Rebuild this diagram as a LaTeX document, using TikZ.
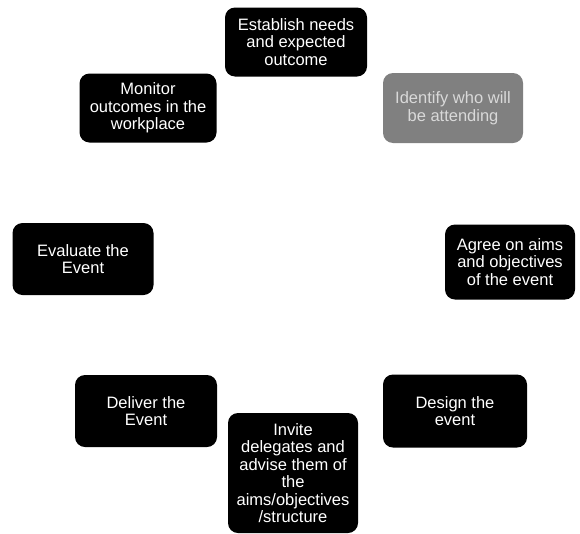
\documentclass[tikz,border=0pt]{standalone}
\usepackage{fontspec}
\setmainfont{Liberation Sans}
\usepackage{tikz}

\begin{document}
\begin{tikzpicture}[x=1pt, y=-1pt,
    stage/.style={fill=black, text=white, rounded corners=10pt, align=center,
      inner sep=0pt, font=\fontsize{16.5}{17.5}\selectfont},
    faded/.style={stage, fill=black!50, text=white!85!black}]
        \useasboundingbox (0, 0) rectangle (580, 533);

        \node[stage, minimum width=142, minimum height=69] (needs) at (296, 42)
          {Establish needs\\and expected\\outcome};
        \node[faded, minimum width=140, minimum height=70] (attend) at (453, 108)
          {Identify who will\\be attending};
        \node[stage, minimum width=130, minimum height=75] (aims) at (510, 262)
          {Agree on aims\\and objectives\\of the event};
        \node[stage, minimum width=144, minimum height=73] (design) at (455, 411)
          {Design the\\event};
        \node[stage, minimum width=130, minimum height=120] (invite) at (293, 473)
          {Invite\\delegates and\\advise them of\\the\\aims/objectives\\/structure};
        \node[stage, minimum width=142, minimum height=72] (deliver) at (146, 411)
          {Deliver the\\Event};
        \node[stage, minimum width=141, minimum height=72] (evaluate) at (83, 259)
          {Evaluate the\\Event};
        \node[stage, minimum width=137, minimum height=69] (monitor) at (148, 108)
          {Monitor\\outcomes in the\\workplace};
      \end{tikzpicture}
\end{document}
